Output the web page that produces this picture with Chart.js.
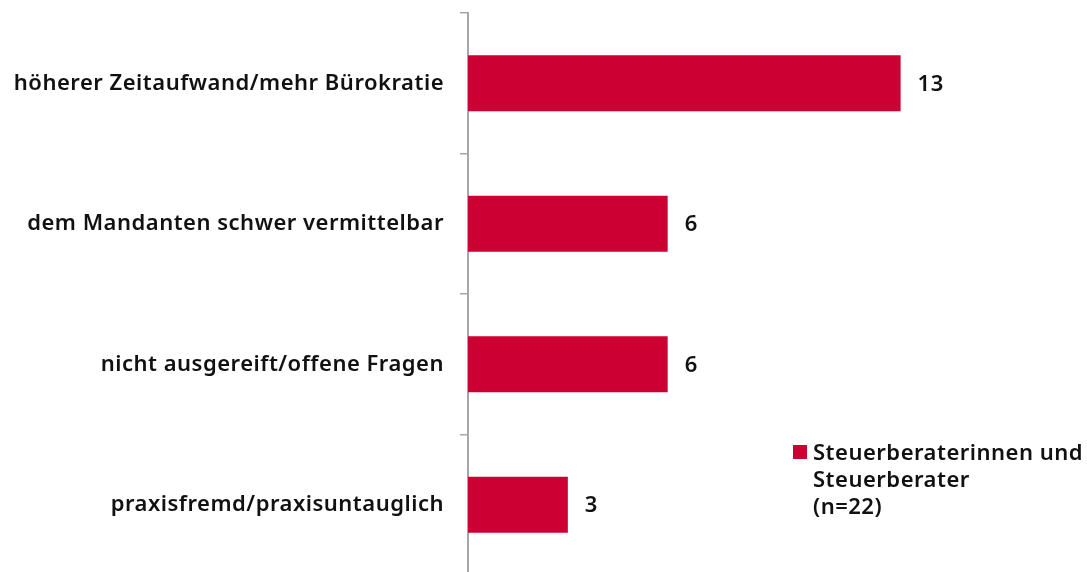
<!DOCTYPE html>
<html>
<head>
<meta charset="utf-8">
<script src="https://cdn.jsdelivr.net/npm/chart.js@4"></script>
<style>
  html, body { margin: 0; padding: 0; background: #fff; overflow: hidden; }
  #wrap { position: relative; width: 1087px; height: 575px; }
  #legend {
    position: absolute; left: 793px; top: 438px;
    font-family: "Noto Sans", sans-serif; font-weight: 600; font-size: 22px;
    letter-spacing: 0.5px; line-height: 27px; color: #111;
  }
  #legend .sw {
    position: absolute; left: 0; top: 7px; width: 14px; height: 14px; background: #cc0033;
  }
  #legend .txt { margin-left: 20px; }
</style>
</head>
<body>
<div id="wrap">
  <canvas id="chart" width="1087" height="575"></canvas>
  <div id="legend"><span class="sw"></span><div class="txt" id="legend-text"></div></div>
</div>
<script>
"use strict";

// ── data ─────────────────────────────────────────────────────────────────────
const categories = [
  "höherer Zeitaufwand/mehr Bürokratie",
  "dem Mandanten schwer vermittelbar",
  "nicht ausgereift/offene Fragen",
  "praxisfremd/praxisuntauglich",
];
const values = [13, 6, 6, 3];
const seriesLabel = ["Steuerberaterinnen und", "Steuerberater", "(n=22)"];

const BAR_COLOR = "#cc0033";
const FONT = "'Noto Sans', sans-serif";

document.getElementById("legend-text").innerHTML = seriesLabel.join("<br>");

// ── slightly looser letter spacing, like the original typeface ──────────────
const spacing = {
  id: "spacing",
  beforeDraw(chart) { chart.ctx.letterSpacing = "0.5px"; },
};

// ── value labels at bar ends ─────────────────────────────────────────────────
const valueLabels = {
  id: "valueLabels",
  afterDatasetsDraw(chart) {
    const ctx = chart.ctx;
    const meta = chart.getDatasetMeta(0);
    ctx.save();
    ctx.font = `600 22px ${FONT}`;
    ctx.fillStyle = "#111";
    ctx.textAlign = "left";
    ctx.textBaseline = "middle";
    meta.data.forEach((bar, i) => {
      ctx.fillText(String(values[i]), bar.x + 17, bar.y + 1);
    });
    ctx.restore();
  },
};

new Chart(document.getElementById("chart"), {
  type: "bar",
  data: {
    labels: categories,
    datasets: [{
      label: seriesLabel.join(" "),
      data: values,
      backgroundColor: BAR_COLOR,
      barPercentage: 0.8,
      categoryPercentage: 0.5,
    }],
  },
  options: {
    indexAxis: "y",
    responsive: false,
    animation: false,
    layout: { padding: { top: 13, right: 20, left: 0, bottom: 0 } },
    plugins: { legend: { display: false }, tooltip: { enabled: false } },
    scales: {
      x: {
        display: false,
        min: 0, max: 18,
      },
      y: {
        afterFit(scale) {
          scale.width = 468;
          scale.paddingTop = 0;
          scale.paddingBottom = 0;
        },
        border: { display: true, color: "#a6a6a6", width: 2 },
        grid: {
          drawOnChartArea: false,
          drawTicks: true,
          tickLength: 8,
          color: "#a6a6a6",
          lineWidth: 1.5,
        },
        ticks: {
          padding: 16,
          color: "#111",
          font: { family: FONT, size: 22, weight: "600" },
        },
      },
    },
  },
  plugins: [spacing, valueLabels],
});
</script>
</body>
</html>
